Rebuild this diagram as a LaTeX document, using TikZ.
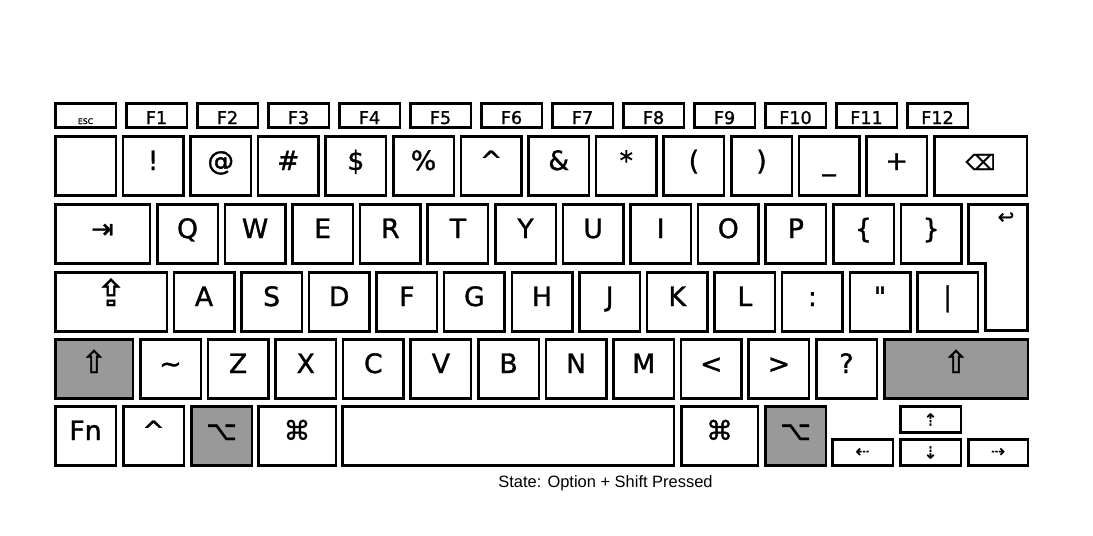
\documentclass[tikz,border=0pt]{standalone}
\usepackage{fontspec}
\setmainfont{DejaVu Sans}
\newfontfamily\keyfam[FakeBold=1.2]{DejaVu Sans}
\newfontfamily\capfont{Liberation Sans}
\usepackage{tikz}
\usetikzlibrary{positioning}
\usepackage{xcolor}
\definecolor{kGray}{RGB}{153,153,153}
\newcommand{\pxu}{0.025cm}
\newcommand{\keyfont}{\keyfam\fontsize{19}{21}\selectfont}
\newcommand{\fnfont}{\keyfam\fontsize{12.5}{14}\selectfont}
\tikzset{
  basekey/.style={rectangle,draw=black,line width=1.8pt,fill=white,
                  anchor=north west,inner sep=0pt,align=center},
  keycap/.style={basekey,minimum height=59.5*\pxu,minimum width=60.5*\pxu,
                 text height=8*\pxu,text depth=0pt,font=\keyfont},
  modkey/.style={keycap,fill=kGray},
  fnkey/.style={basekey,minimum height=24.5*\pxu,minimum width=60.5*\pxu,
                text height=17*\pxu,text depth=0pt,font=\fnfont},
  arrkey/.style={basekey,minimum height=26.5*\pxu,minimum width=60.5*\pxu,
                 font=\keyfam\fontsize{12}{14}\selectfont},
  keyline/.style={draw=black,line width=1.8pt,fill=white}
}

\begin{document}
\begin{tikzpicture}[x=\pxu,y=-\pxu]
  \useasboundingbox (0,0) rectangle (1093,536);

  % function row
  \node[fnkey,font=\keyfam\fontsize{5.5}{6}\selectfont] (esc) at (54,102) {ESC};
  \foreach \i in {1,...,12}
    \node[fnkey] (f\i) at (54+71*\i,102) {F\i};

  % number row
  \node[keycap] (n0) at (54,135) {};
  \foreach \lbl [count=\i] in {{!},{@},{\#},{\$},{\%},{\textasciicircum},{\&},{*},{(},{)},{\_},{+}}
    \node[keycap] (n\i) at (54+67.6*\i,135) {\lbl};
  \node[keycap,minimum width=92.5*\pxu,font=\keyfam\fontsize{15}{16}\selectfont] (bksp) at (933,135) {⌫};

  % top letter row
  \node[keycap,minimum width=94.5*\pxu] (tab) at (54,203) {⇥};
  \foreach \lbl [count=\i from 0] in {Q,W,E,R,T,Y,U,I,O,P,{\{},{\}}}
    \node[keycap] (q\i) at (156+67.6*\i,203) {\lbl};
  \draw[keyline] (968.25,204.25) -- (1027.75,204.25) -- (1027.75,330.75)
    -- (985.25,330.75) -- (985.25,263.75) -- (968.25,263.75) -- cycle;
  \node[font=\keyfam\fontsize{14}{16}\selectfont] (ret) at (1006,218) {↩};

  % home row
  \node[keycap,minimum width=111.5*\pxu,font=\keyfam\fontsize{26}{28}\selectfont] (caps) at (54,271) {⇪};
  \foreach \lbl [count=\i from 0] in {A,S,D,F,G,H,J,K,L,{:},{\textquotedbl},{|}}
    \node[keycap] (a\i) at (172.5+67.6*\i,271) {\lbl};

  % bottom letter row
  \node[modkey,minimum width=77.5*\pxu,font=\keyfam\fontsize{22}{24}\selectfont] (lshift) at (54,338) {⇧};
  \foreach \lbl [count=\i from 0] in {{\textasciitilde},Z,X,C,V,B,N,M,{<},{>},{?}}
    \node[keycap] (z\i) at (139+67.6*\i,338) {\lbl};
  \node[modkey,minimum width=143.5*\pxu,font=\keyfam\fontsize{22}{24}\selectfont] (rshift) at (883,338) {⇧};

  % modifier row
  \node[keycap] (fn) at (54,405) {Fn};
  \node[keycap] (ctrl) at (122,405) {\textasciicircum};
  \node[modkey] (lopt) at (190,405) {⌥};
  \node[keycap,minimum width=77.5*\pxu] (lcmd) at (257,405) {⌘};
  \node[keycap,minimum width=331.5*\pxu] (space) at (341,405) {};
  \node[keycap,minimum width=76.5*\pxu] (rcmd) at (680,405) {⌘};
  \node[modkey] (ropt) at (764,405) {⌥};
  \node[arrkey] (up) at (899,405) {⇡};
  \node[arrkey] (left) at (831,438) {⇠};
  \node[arrkey] (down) at (899,438) {⇣};
  \node[arrkey,minimum width=59.5*\pxu] (right) at (967,438) {⇢};

  \node[font=\capfont\fontsize{11.7}{14}\selectfont,anchor=base] (state)
    at (605.5,488) {State: Option + Shift Pressed};
\end{tikzpicture}
\end{document}
